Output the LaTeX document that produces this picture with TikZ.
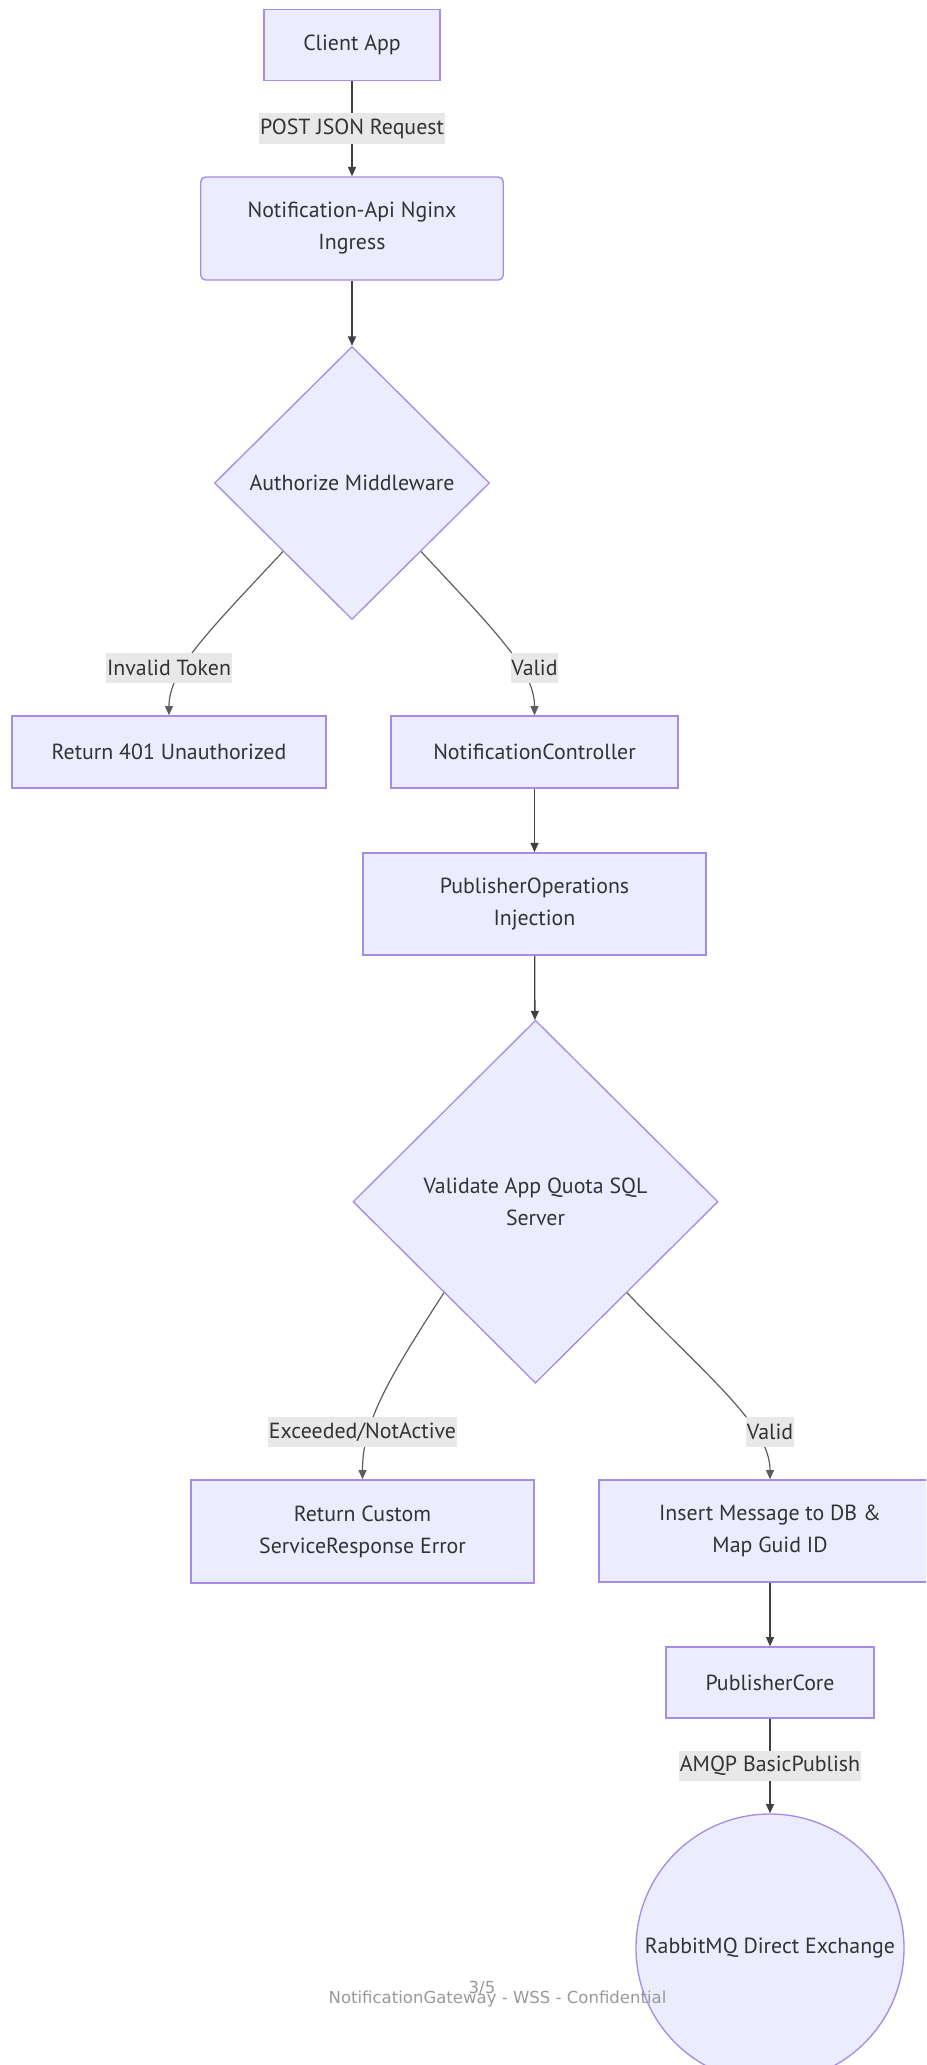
\documentclass[tikz,border=0pt]{standalone}
\usepackage{fontspec}
\setmainfont{PT Sans}
\newfontfamily\footfont{DejaVu Sans}
\usetikzlibrary{shapes.geometric,arrows.meta,calc}
\definecolor{nfill}{HTML}{ECECFF}
\definecolor{nstroke}{HTML}{A88BE6}
\definecolor{edgec}{HTML}{404040}
\definecolor{lblfill}{HTML}{E8E8E8}
\definecolor{txtc}{HTML}{333333}
\definecolor{footc}{HTML}{999999}
\newcommand\nfont{\fontsize{16.4}{24}\selectfont}
\newcommand\ffont{\footfont\fontsize{12.4}{14}\selectfont}
\begin{document}
\begin{tikzpicture}[x=0.75pt,y=-0.75pt,
  box/.style={draw=nstroke, fill=nfill, line width=1pt, inner sep=0pt, text=txtc, align=center, font=\nfont},
  dia/.style={diamond, draw=nstroke, fill=nfill, line width=1pt, inner sep=0pt},
  circ/.style={circle, draw=nstroke, fill=nfill, line width=1pt, inner sep=0pt, text=txtc, font=\nfont},
  txtnode/.style={text=txtc, align=center, font=\nfont, inner sep=0pt},
  lbl/.style={fill=lblfill, text=txtc, font=\nfont, inner xsep=0.5pt, inner ysep=0pt, minimum height=23pt},
  arr/.style={draw=edgec, line width=1pt, -{Triangle[length=7pt,width=6pt]}},
  carr/.style={draw=edgec!85, line width=0.9pt, -{Triangle[length=7pt,width=6pt]}},
  foot/.style={font=\ffont, text=footc, anchor=base, inner sep=0pt}]
\useasboundingbox (0,0) rectangle (926,2065);
\clip (0,0) rectangle (926,2065);

% nodes
\node[box, minimum width=132pt, minimum height=53.5pt] (client) at (352,45) {Client App};
\node[box, rounded corners=3.5pt, minimum width=226.8pt, minimum height=77.25pt] (nginx) at (352,228.5) {Notification-Api Nginx\\Ingress};
\node[dia, minimum width=206.25pt, minimum height=204.75pt] (d1) at (352,483) {};
\node[txtnode] (d1t) at (d1.center) {Authorize Middleware};
\node[box, minimum width=235.5pt, minimum height=54pt] (r401) at (169,752) {Return 401 Unauthorized};
\node[box, minimum width=215.25pt, minimum height=54pt] (nc) at (534.5,752) {NotificationController};
\node[box, minimum width=257.25pt, minimum height=76.7pt] (po) at (534.5,904) {PublisherOperations\\Injection};
\node[dia, minimum width=273.75pt, minimum height=272.25pt] (d2) at (535.5,1201.7) {};
\node[txtnode] (d2t) at (d2.center) {Validate App Quota SQL\\Server};
\node[box, minimum width=257.25pt, minimum height=77.25pt] (rce) at (362.5,1531.5) {Return Custom\\ServiceResponse Error};
\node[box, minimum width=256.5pt, minimum height=76.5pt] (ins) at (770,1531) {Insert Message to DB \&\\Map Guid ID};
\node[box, minimum width=156pt, minimum height=53.25pt] (pc) at (770,1682.5) {PublisherCore};
\node[circ, minimum size=201pt] (rmq) at (770,1948) {RabbitMQ Direct Exchange};

% straight connectors
\draw[arr] (client) -- node[lbl] (l1) {POST JSON Request} (nginx);
\draw[arr] (nginx) -- (d1);
\draw[arr] (nc) -- (po);
\draw[arr] (po) -- (d2);
\draw[arr] (ins) -- (pc);
\draw[arr] (pc) -- node[lbl] (l6) {AMQP BasicPublish} (rmq);

% curved connectors
\coordinate (d1sw) at ($(d1.west)!0.5!(d1.south)$);
\coordinate (d1se) at ($(d1.east)!0.5!(d1.south)$);
\coordinate (d2sw) at ($(d2.west)!0.5!(d2.south)$);
\coordinate (d2se) at ($(d2.east)!0.5!(d2.south)$);
\draw[carr] (d1sw) .. controls (208,632) and (169,670) .. (r401.north);
\draw[carr] (d1se) .. controls (496,632) and (534.5,670) .. (nc.north);
\draw[carr] (d2sw) .. controls (384,1385) and (362.5,1425) .. (rce.north);
\draw[carr] (d2se) .. controls (705,1375) and (770,1425) .. (ins.north);
\node[lbl] (l2) at (169,668) {Invalid Token};
\node[lbl] (l3) at (534.5,668) {Valid};
\node[lbl] (l4) at (362.5,1432) {Exceeded/NotActive};
\node[lbl] (l5) at (770,1432) {Valid};

% footer
\node[foot] (footer) at (497.5,2003) {NotificationGateway - WSS - Confidential};
\node[foot] (page) at (482,1993) {3/5};
\end{tikzpicture}
\end{document}
